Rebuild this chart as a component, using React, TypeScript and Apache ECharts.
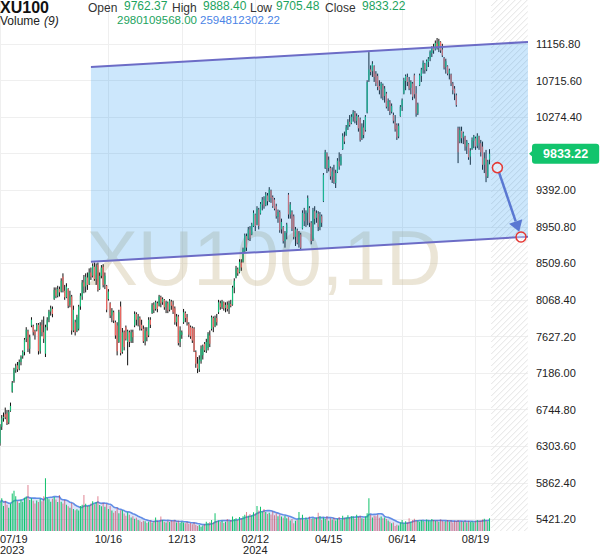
import React, { useEffect, useRef } from "react";
import * as echarts from "echarts";

// ---------- data ----------
const SYMBOL = "XU100";
const WATERMARK = "XU100,1D";
const HEADER_OHLC = { open: "9762.37", high: "9888.40", low: "9705.48", close: "9833.22" };
const HEADER_VOLUME = { period: 9, volume: "2980109568.00", ma: "2594812302.22" };
const LAST_CLOSE = 9833.22;

const START_DATE = "2023-07-19";
const CATEGORY_COUNT = 303; // trading days incl. empty future slots
const HOLIDAYS = [
  "2023-08-30", "2024-01-01", "2024-04-10", "2024-04-11", "2024-04-12", "2024-04-23",
  "2024-05-01", "2024-06-17", "2024-06-18", "2024-06-19", "2024-07-15", "2024-08-30",
];
const LABEL_DATES = ["2023-07-19", "2023-10-16", "2023-12-13", "2024-02-12", "2024-04-15", "2024-06-14", "2024-08-19"];
const YEAR_LABEL_DATES = ["2023-07-19", "2024-02-12"];

// price axis ticks
const PRICE_MIN = 4980;
const PRICE_MAX = 11580;
const PRICE_STEP = 441.2;

// [open, close, low, high]
const CANDLES: number[][] = [
  [6340,6540,6310,6570],[6540,6640,6500,6680],[6640,6660,6600,6710],[6690,6650,6630,6770],[6700,6580,6560,6740],
  [6590,6720,6570,6740],[6730,6790,6720,6830],[6960,7070,6950,7090],[7090,7230,7070,7250],[7220,7270,7190,7300],
  [7280,7230,7200,7320],[7240,7320,7220,7350],[7320,7380,7280,7400],[7390,7440,7360,7460],[7440,7590,7400,7610],
  [7600,7710,7560,7740],[7690,7480,7440,7710],[7480,7620,7420,7650],[7760,7830,7740,7860],[7750,7680,7640,7770],
  [7690,7650,7590,7710],[7700,7770,7690,7790],[7770,7450,7410,7790],[7450,7760,7420,7800],[7770,7680,7630,7830],
  [7680,7600,7550,7870],[7420,7740,7380,7770],[7740,7830,7700,7860],[7830,7930,7800,7950],[7930,7970,7880,8000],
  [7960,7900,7860,7990],[8080,8190,8070,8220],[8190,8120,8090,8220],[8120,8200,8100,8240],[8200,8160,8110,8230],
  [8170,8300,8160,8330],[8350,8180,8160,8390],[8180,8100,8070,8250],[8100,8230,8090,8270],[8200,8000,7970,8210],
  [8010,8120,7980,8180],[8110,7700,7650,8130],[7700,7950,7680,8000],[7800,7680,7640,7830],[7690,7860,7680,7890],
  [7720,7990,7700,8010],[7990,8120,7950,8150],[8110,8280,8070,8310],[8280,8230,8150,8370],[8230,8350,8160,8390],
  [8340,8250,8190,8400],[8260,8400,8250,8450],[8400,8350,8310,8460],[8360,8480,8340,8510],[8470,8320,8300,8520],
  [8320,8470,8250,8510],[8490,8190,8170,8520],[8200,8360,8190,8400],[8360,8460,8330,8490],[8470,8250,8220,8500],
  [8260,8360,8200,8400],[8240,7950,7920,8250],[8080,8170,8060,8200],[8030,7880,7850,8040],[7880,7940,7800,7970],
  [7920,7820,7790,7940],[7800,7640,7600,7820],[7760,7450,7400,7800],[7560,7920,7550,7950],[7990,7430,7400,8050],
  [7440,7680,7420,7730],[7680,7500,7460,7700],[7740,7600,7580,7760],[7560,7690,7280,7710],[7680,7560,7500,7700],
  [7570,7680,7550,7710],[7680,7620,7550,7710],[7760,7900,7740,7930],[7900,7830,7760,7920],[7830,7870,7750,7900],
  [7850,7760,7700,7870],[7770,7720,7700,7830],[7720,7570,7550,7760],[7570,7700,7520,7740],[7690,7620,7570,7740],
  [7640,7830,7620,7860],[7830,7770,7730,7860],[7910,8010,7900,8030],[8010,7950,7910,8040],[7960,8040,7940,8060],
  [8030,7960,7920,8050],[8000,8110,7990,8130],[8100,8030,7980,8120],[8040,8080,8010,8100],[8070,7980,7950,8080],
  [7980,8040,7910,8060],[8030,7940,7910,8050],[7950,8060,7930,8080],[8050,8000,7950,8070],[8010,7920,7900,8060],
  [7970,7800,7770,7990],[7800,7870,7750,7900],[7870,7550,7520,7890],[7560,7700,7500,7750],[7650,7680,7600,7700],
  [7800,7920,7780,7960],[7910,7850,7800,7930],[7860,7800,7760,7900],[7780,7650,7620,7800],[7740,7630,7600,7760],
  [7730,7580,7550,7750],[7720,7450,7440,7740],[7440,7300,7250,7460],[7300,7240,7186,7380],[7230,7350,7200,7400],
  [7330,7480,7300,7520],[7400,7510,7350,7530],[7540,7460,7440,7560],[7460,7560,7430,7600],[7490,7660,7460,7680],
  [7640,7540,7500,7700],[7720,7860,7700,7880],[7850,7740,7680,7870],[7750,7850,7740,7880],[7850,7800,7760,7900],
  [7920,8040,7900,8070],[8030,7980,7950,8060],[7980,8050,7960,8070],[8040,7970,7940,8050],[7970,8010,7920,8040],
  [8010,7960,7930,8050],[7960,8030,7900,8060],[8020,8000,7980,8070],[8010,8220,8000,8240],[8220,8300,8150,8330],
  [8340,8450,8330,8480],[8440,8390,8360,8460],[8400,8530,8390,8560],[8520,8460,8420,8560],[8530,8680,8520,8700],
  [8660,8850,8650,8870],[8840,8700,8660,8870],[8800,8920,8790,8950],[8920,8820,8780,8960],[8860,8980,8850,9000],
  [8960,9120,8950,9150],[9100,8960,8900,9110],[8980,9170,8970,9200],[9160,8960,8920,9180],[9110,9230,9100,9250],
  [9220,9280,9150,9310],[9270,9200,9170,9320],[9210,9340,9200,9370],[9330,9260,9210,9360],[9270,9400,9250,9430],
  [9390,9300,9240,9400],[9310,9200,9180,9330],[9280,9170,9150,9300],[9200,9080,9050,9230],[9070,9130,9000,9160],
  [9130,8910,8880,9150],[8920,9010,8870,9050],[8950,8780,8750,8960],[8780,8880,8700,8900],[8880,8980,8800,9000],
  [9340,9100,9050,9360],[9100,9220,9050,9250],[9130,8930,8900,9150],[9080,8830,8800,9100],[8830,8920,8720,8950],
  [8910,8760,8740,8930],[8760,8870,8700,8900],[8860,8700,8670,8880],[8930,9120,8920,9150],[9110,9020,8960,9180],
  [9030,9120,8950,9150],[9120,9300,8970,9330],[9180,9000,8950,9200],[9000,8780,8740,9020],[8800,9150,8780,9180],
  [9140,9050,8980,9200],[9060,9120,9000,9150],[9110,8950,8900,9140],[8950,9080,8910,9130],[9080,9000,8950,9100],
  [9260,9580,9250,9600],[9660,9850,9650,9880],[9840,9660,9600,9850],[9660,9760,9620,9800],[9660,9560,9520,9680],
  [9560,9620,9480,9670],[9630,9490,9470,9700],[9480,9600,9420,9640],[9610,9750,9600,9780],[9740,9680,9640,9850],
  [9700,9800,9690,9830],[9890,10050,9880,10080],[10040,9980,9950,10100],[10060,10150,10050,10180],[10150,10220,10120,10250],
  [10220,10180,10160,10300],[10200,10280,10190,10310],[10280,10330,10220,10360],[10330,10230,10200,10350],[10230,10290,10180,10320],
  [10280,10140,10100,10300],[10250,10000,9980,10270],[10020,10160,10000,10200],[10150,10060,10020,10240],[10120,10280,10100,10300],
  [10330,10700,10320,10720],[10720,10850,10700,11060],[10850,10820,10780,10900],[10830,10920,10760,10950],[10890,10760,10700,10900],
  [10800,10680,10650,10830],[10770,10640,10600,10800],[10650,10600,10550,10720],[10610,10680,10500,10700],[10660,10520,10480,10680],
  [10530,10620,10450,10650],[10560,10400,10380,10580],[10400,10470,10350,10500],[10460,10340,10300,10480],[10340,10410,10320,10440],
  [10300,10230,10200,10330],[10220,10130,10100,10300],[10180,10030,10000,10200],[10040,10170,10020,10200],[10290,10400,10280,10420],
  [10400,10480,10350,10500],[10560,10720,10550,10750],[10710,10770,10600,10790],[10760,10700,10650,10800],[10700,10620,10600,10760],
  [10630,10700,10550,10720],[10680,10520,10480,10700],[10780,10550,10500,10800],[10560,10320,10280,10650],[10320,10430,10300,10450],
  [10660,10780,10650,10800],[10770,10850,10700,10870],[10850,10930,10800,10960],[10920,10840,10800,10930],[10850,10950,10830,10970],
  [10940,10980,10880,11000],[10980,11060,10950,11080],[11050,11110,11000,11130],[11110,11080,11040,11160],[11090,11170,11080,11200],
  [11160,11120,11090,11230],[11120,11190,11060,11220],[11180,11080,11050,11190],[11090,11020,11000,11160],[10990,10870,10850,11000],
  [10880,10950,10800,10980],[10890,10800,10780,10900],[10800,10840,10730,10860],[10790,10680,10650,10800],[10680,10600,10550,10700],
  [10620,10560,10480,10650],[10540,10420,10400,10560],[10140,9850,9720,10160],[9980,10120,9960,10160],[10110,10020,9960,10160],
  [10030,10080,9950,10100],[10040,9920,9870,10050],[9920,9980,9830,10000],[9950,9790,9760,9960],[9800,9870,9700,9900],
  [9890,10000,9880,10030],[9990,10040,9900,10060],[10020,9920,9880,10040],[9930,10050,9900,10080],[10040,9960,9880,10050],
  [9960,9850,9800,10000],[9920,9700,9640,9980],[9700,9780,9600,9850],[9780,9560,9490,9880],[9560,9740,9540,9760],
  [9762.37,9833.22,9705.48,9888.40],
];

// volume, billions
const VOLUMES: number[] = [
  6.8,7.7,5.9,7.1,6.2,5.5,6.4,8.8,9.5,8.2, 7.0,6.6,7.4,6.9,7.8,8.1,10.8,7.3,7.7,7.1,
  6.5,7.2,6.8,7.6,7.0,8.2,12.4,7.8,7.5,6.9, 7.6,8.0,7.4,6.8,8.5,6.9,6.5,7.3,6.2,5.8,
  5.5,6.6,5.2,4.9,5.1,4.8,5.9,6.2,8.5,6.4, 5.9,6.0,6.5,7.0,6.3,6.8,8.2,6.1,5.8,6.6,
  5.7,6.4,5.2,5.9,4.8,4.3,4.7,5.5,4.2,4.9, 4.9,4.1,3.6,4.4,3.8,3.2,3.5,2.9,3.1,2.6,
  2.5,2.1,2.4,2.3,1.9,2.2,2.5,2.0,2.3,3.2, 2.4,2.1,3.4,2.6,2.2,2.0,2.4,2.1,2.5,2.3,
  2.6,2.0,2.4,1.9,2.2,2.0,1.8,2.1,1.7,1.9, 1.6,2.0,1.5,1.2,1.4,1.0,1.3,1.6,2.2,1.8,
  2.1,2.6,2.0,4.2,2.3,2.5,2.1,2.4,1.9,2.2, 2.8,2.3,2.6,3.4,2.8,3.0,2.6,3.3,2.9,3.5,
  3.8,4.5,3.6,4.0,3.7,4.4,4.1,5.9,4.8,5.7, 4.6,5.2,4.5,4.0,4.3,3.9,4.6,3.7,4.2,3.5,
  3.9,3.4,3.1,3.6,3.0,3.3,2.5,2.8,1.8,2.4, 2.6,4.5,2.9,3.8,2.6,3.2,2.7,3.4,2.8,3.0,
  2.9,3.1,4.3,3.5,2.6,3.2,2.8,3.5,2.4,3.0, 2.7,3.1,2.5,2.9,3.3,2.6,3.6,3.0,3.2,3.7,
  3.1,3.5,3.4,2.9,3.8,3.3,3.6,3.0,2.9,3.4, 4.2,7.7,3.8,3.2,3.6,3.5,3.9,3.1,3.4,3.0,
  3.2,2.8,2.5,2.2,1.8,2.0,1.2,1.5,1.3,2.0, 2.6,1.7,2.3,2.0,3.0,2.2,2.6,2.9,2.4,2.5,
  2.2,2.6,2.4,2.1,2.7,2.5,2.3,2.8,2.6,2.4, 2.5,2.2,2.7,2.4,2.1,2.3,2.6,2.2,2.5,2.0,
  2.4,2.3,2.6,2.1,2.3,2.2,2.5,2.0,2.4,2.1, 2.3,2.0,2.4,2.6,2.5,2.5,2.7,2.9,2.5,2.3,
  2.98,
];
const VOLUME_AXIS_MAX = 125;

// drawings in [category index, price]
const CHANNEL_UPPER = [[52, 10880], [302, 11182]];
const CHANNEL_LOWER = [[52, 8530], [302, 8832]];
const ARROW = [[284.5, 9665], [298, 8828]];
const FUTURE_START = 281;

// ---------- styles ----------
const FONT = '"Liberation Sans", Arial, Helvetica, sans-serif';
const UP = "#17bd78";
const DOWN = "#f26b64";
const GRID_LINE = "#efefef";
const TAG = "#12c46d";

function buildDates(): string[] {
  const out: string[] = [];
  const [y, m, d] = START_DATE.split("-").map(Number);
  const dt = new Date(Date.UTC(y, m - 1, d));
  while (out.length < CATEGORY_COUNT) {
    const wd = dt.getUTCDay();
    const s = dt.toISOString().slice(0, 10);
    if (wd !== 0 && wd !== 6 && HOLIDAYS.indexOf(s) < 0) out.push(s);
    dt.setUTCDate(dt.getUTCDate() + 1);
  }
  return out;
}

function movingAverage(arr: number[], n: number): number[] {
  return arr.map((_, i) => {
    const s = Math.max(0, i - n + 1);
    let sum = 0;
    for (let k = s; k <= i; k++) sum += arr[k];
    return sum / (i - s + 1);
  });
}

export default function App() {
  const ref = useRef<HTMLDivElement>(null);

  useEffect(() => {
    if (!ref.current) return;
    const chart = echarts.init(ref.current, undefined, { renderer: "svg" });
    const dates = buildDates();
    const labelSet = new Set(LABEL_DATES);
    const showIdx = (idx: number, val: string) => labelSet.has(dates[idx] ?? val);

    const candleData = CANDLES.map((c, i) => [i, c[0], c[1], c[2], c[3]]);
    const volData = VOLUMES.map((v, i) => ({
      value: v,
      itemStyle: { color: CANDLES[i][1] >= CANDLES[i][0] ? "#0fc26a" : "rgba(205,50,75,0.6)" },
    }));
    const ma = movingAverage(VOLUMES, HEADER_VOLUME.period);

    const xHelper = (api: any) => {
      const a = api.coord([0, 9000])[0];
      const b = api.coord([1, 9000])[0];
      return (i: number) => a + (b - a) * i;
    };

    const txt = (text: string, x: number, y: number, size: number, fill: string, extra: any = {}) => ({
      type: "text", x, y, z: 10, silent: true,
      style: {
        text, fontSize: size, fontFamily: FONT, fill,
        textVerticalAlign: "middle", verticalAlign: "middle", ...extra,
      },
    });
    const GREEN_TXT = "#1ca35e";
    const LABEL_TXT = "#333";

    const option: any = {
      animation: false,
      textStyle: { fontFamily: FONT },
      grid: [
        { left: 0, right: 72, top: 9, height: 546.9, outerBoundsMode: "none", containLabel: false },
        { left: 0, right: 72, top: 0, height: 531, outerBoundsMode: "none", containLabel: false },
      ],
      xAxis: [
        { type: "category", gridIndex: 0, data: dates, boundaryGap: false, show: false },
        {
          type: "category", gridIndex: 1, data: dates, boundaryGap: false,
          axisLine: { show: false }, axisTick: { show: false, interval: showIdx },
          axisLabel: {
            interval: showIdx,
            alignMinLabel: "left",
            margin: 2, fontSize: 11, lineHeight: 11, color: "#222", fontFamily: FONT,
            formatter: (val: string) => {
              const [yy, mm, dd] = val.split("-");
              const s = `${mm}/${dd}`;
              return YEAR_LABEL_DATES.indexOf(val) >= 0 ? `${s}\n${yy}` : s;
            },
          },
          splitLine: { show: true, interval: showIdx, lineStyle: { color: GRID_LINE, width: 1 } },
        },
      ],
      yAxis: [
        {
          type: "value", gridIndex: 0, position: "right",
          min: PRICE_MIN, max: PRICE_MAX, interval: PRICE_STEP,
          axisLine: { show: false }, axisTick: { show: false },
          axisLabel: {
            showMinLabel: false, showMaxLabel: false, margin: 8, fontSize: 11, color: "#222", fontFamily: FONT,
            // the last-price tag covers the tick label at the current price
            formatter: (v: number) => (Math.abs(v - LAST_CLOSE) < 1 ? "" : v.toFixed(2)),
          },
          splitLine: { show: true, showMinLine: false, showMaxLine: false, lineStyle: { color: GRID_LINE, width: 1 } },
        },
        { type: "value", gridIndex: 1, min: 0, max: VOLUME_AXIS_MAX, show: false, splitLine: { show: false } },
      ],
      graphic: [
        {
          type: "text", x: 264, y: 258, z: 1, silent: true,
          style: {
            text: WATERMARK, fontSize: 77, fontFamily: FONT, fill: "rgba(190,170,120,0.3)",
            textAlign: "center", align: "center", textVerticalAlign: "middle", verticalAlign: "middle",
          },
        },
        txt(SYMBOL, 0, 7.2, 16, "#111", { fontWeight: "bold" }),
        txt("Open", 88, 7.8, 12, LABEL_TXT),
        txt(HEADER_OHLC.open, 124, 5.9, 12, GREEN_TXT),
        txt("High", 172, 7.8, 12, LABEL_TXT),
        txt(HEADER_OHLC.high, 203, 5.9, 12, GREEN_TXT),
        txt("Low", 250, 7.8, 12, LABEL_TXT),
        txt(HEADER_OHLC.low, 276, 5.9, 12, GREEN_TXT),
        txt("Close", 325, 7.8, 12, LABEL_TXT),
        txt(HEADER_OHLC.close, 362, 5.9, 12, GREEN_TXT),
        txt("Volume", 0, 21.3, 12, "#222"),
        txt(`(${HEADER_VOLUME.period})`, 44, 21.3, 12, "#222", { fontStyle: "italic" }),
        txt(HEADER_VOLUME.volume, 117, 20, 11.5, GREEN_TXT),
        txt(HEADER_VOLUME.ma, 200, 20, 11.5, "#4b84e6"),
      ],
      series: [
        // hatched future area
        {
          type: "custom", xAxisIndex: 1, yAxisIndex: 1, z: 1, silent: true, clip: true,
          data: [[0, 0]],
          renderItem: (params: any, api: any) => {
            const X = xHelper(api);
            const cs = params.coordSys;
            const x0 = X(FUTURE_START), x1 = cs.x + cs.width, y0 = cs.y, y1 = cs.y + cs.height;
            const children: any[] = [];
            for (let c = x0 + y0; c <= x1 + y1; c += 6) {
              const sx = Math.max(x0, c - y1), ex = Math.min(x1, c - y0);
              if (ex > sx) children.push({ type: "line", shape: { x1: sx, y1: c - sx, x2: ex, y2: c - ex }, style: { stroke: "#e3e3e3", lineWidth: 1 } });
            }
            return { type: "group", children };
          },
        },
        // volume MA
        {
          type: "line", xAxisIndex: 1, yAxisIndex: 1, data: ma, symbol: "none", z: 2, silent: true,
          lineStyle: { color: "#628de6", width: 1.6 },
          areaStyle: { color: "rgba(98,141,230,0.33)" },
        },
        // volume bars
        { type: "bar", xAxisIndex: 1, yAxisIndex: 1, data: volData, barWidth: 1, z: 3, silent: true },
        // candles
        {
          type: "custom", xAxisIndex: 0, yAxisIndex: 0, z: 3, silent: true, clip: true,
          data: candleData,
          encode: { x: 0, y: [1, 2, 3, 4] },
          renderItem: (params: any, api: any) => {
            const i = api.value(0), o = api.value(1), c = api.value(2), l = api.value(3), h = api.value(4);
            const pl = api.coord([i, l]), ph = api.coord([i, h]);
            const po = api.coord([i, o]), pc = api.coord([i, c]);
            const x = pl[0];
            const top = Math.min(po[1], pc[1]);
            const bot = Math.max(po[1], pc[1]);
            return {
              type: "group",
              children: [
                { type: "line", shape: { x1: x, y1: ph[1], x2: x, y2: pl[1] }, style: { stroke: "#111", lineWidth: 1 } },
                { type: "rect", shape: { x: x - 0.6, y: top, width: 1.2, height: Math.max(bot - top, 1) }, style: { fill: c >= o ? UP : DOWN } },
              ],
            };
          },
        },
        // channel fill
        {
          type: "custom", xAxisIndex: 0, yAxisIndex: 0, z: 4, silent: true, clip: true,
          data: [[0, 9000]],
          renderItem: (params: any, api: any) => {
            const X = xHelper(api);
            const P = (pt: number[]) => [X(pt[0]), api.coord([0, pt[1]])[1]];
            return {
              type: "polygon",
              shape: { points: [P(CHANNEL_UPPER[0]), P(CHANNEL_UPPER[1]), P(CHANNEL_LOWER[1]), P(CHANNEL_LOWER[0])] },
              style: { fill: "rgba(33,150,243,0.23)" },
            };
          },
        },
        // channel lines, arrow, circles
        {
          type: "custom", xAxisIndex: 0, yAxisIndex: 0, z: 5, silent: true, clip: true,
          data: [[0, 9000]],
          renderItem: (params: any, api: any) => {
            const X = xHelper(api);
            const P = (pt: number[]) => [X(pt[0]), api.coord([0, pt[1]])[1]];
            const u0 = P(CHANNEL_UPPER[0]), u1 = P(CHANNEL_UPPER[1]);
            const l0 = P(CHANNEL_LOWER[0]), l1 = P(CHANNEL_LOWER[1]);
            const a0 = P(ARROW[0]), a1 = P(ARROW[1]);
            const dx = a1[0] - a0[0], dy = a1[1] - a0[1];
            const len = Math.hypot(dx, dy);
            const ux = dx / len, uy = dy / len;
            const r = 5;
            const tip = [a1[0] - ux * (r + 0.5), a1[1] - uy * (r + 0.5)];
            const base = [tip[0] - ux * 11, tip[1] - uy * 11];
            const nx = -uy, ny = ux;
            const lineStyle = { stroke: "#6c6cc6", lineWidth: 2 };
            return {
              type: "group",
              children: [
                { type: "line", shape: { x1: u0[0], y1: u0[1], x2: u1[0], y2: u1[1] }, style: lineStyle },
                { type: "line", shape: { x1: l0[0], y1: l0[1], x2: l1[0], y2: l1[1] }, style: lineStyle },
                { type: "line", shape: { x1: a0[0] + ux * r, y1: a0[1] + uy * r, x2: base[0], y2: base[1] }, style: { stroke: "#5a78d2", lineWidth: 2.5 } },
                {
                  type: "polygon",
                  shape: { points: [tip, [base[0] + nx * 7, base[1] + ny * 7], [base[0] - nx * 7, base[1] - ny * 7]] },
                  style: { fill: "#5a78d2" },
                },
                { type: "circle", shape: { cx: a0[0], cy: a0[1], r }, style: { fill: "rgba(255,255,255,0.35)", stroke: "#e53935", lineWidth: 1.5 } },
                { type: "circle", shape: { cx: a1[0], cy: a1[1], r }, style: { fill: "rgba(255,255,255,0.35)", stroke: "#e53935", lineWidth: 1.5 } },
              ],
            };
          },
        },
        // last price tag
        {
          type: "line", xAxisIndex: 0, yAxisIndex: 0, z: 6, silent: true,
          data: [[CANDLES.length - 1, LAST_CLOSE]], symbol: "none", lineStyle: { opacity: 0 },
          markLine: {
            silent: true, symbol: ["none", "none"], animation: false,
            lineStyle: { color: "rgba(0,0,0,0)", width: 0 },
            label: {
              show: true, position: "end", distance: 4,
              formatter: () => LAST_CLOSE.toFixed(2),
              color: "#fff", fontSize: 12.5, fontWeight: "bold", fontFamily: FONT,
              backgroundColor: TAG, padding: [4, 11, 4, 11], borderRadius: 3, lineHeight: 12,
            },
            data: [{ yAxis: LAST_CLOSE }],
          },
          markPoint: {
            silent: true, animation: false,
            symbol: "triangle", symbolSize: [7, 4], symbolRotate: 90, symbolOffset: [3, 0],
            itemStyle: { color: TAG }, label: { show: false },
            data: [{ coord: [CATEGORY_COUNT - 1, LAST_CLOSE] }],
          },
        },
      ],
    };

    chart.setOption(option);
    return () => chart.dispose();
  }, []);

  return <div ref={ref} style={{ position: "absolute", left: 0, top: 0, width: 600, height: 558 }} />;
}
